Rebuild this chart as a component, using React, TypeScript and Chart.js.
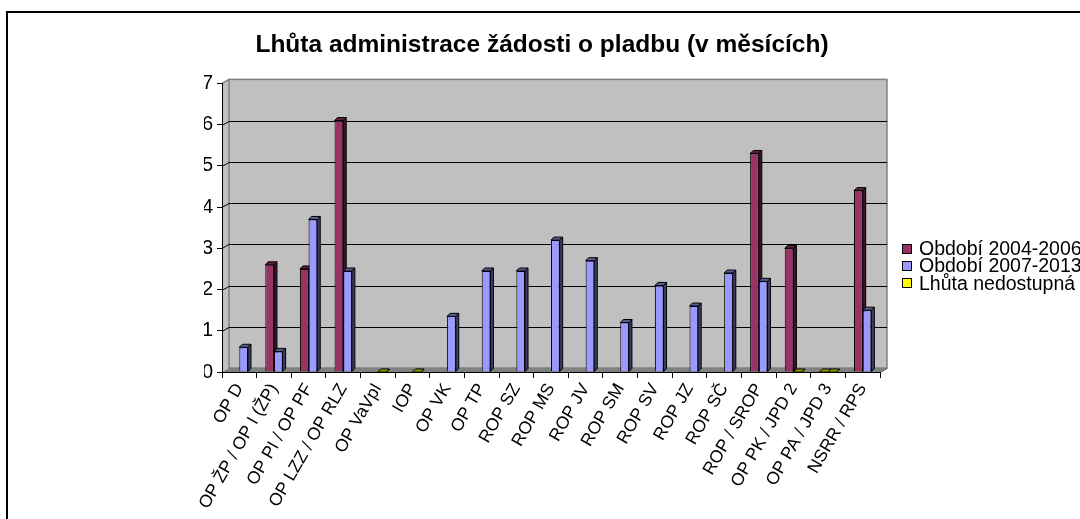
import React, { useEffect, useRef } from "react";
import { Chart, registerables } from "chart.js";

Chart.register(...registerables);

const TITLE = "Lhůta administrace žádosti o pladbu (v měsících)";

const categories = [
  "OP D",
  "OP ŽP / OP I (ŽP)",
  "OP PI / OP PF",
  "OP LZZ / OP RLZ",
  "OP VaVpI",
  "IOP",
  "OP VK",
  "OP TP",
  "ROP SZ",
  "ROP MS",
  "ROP JV",
  "ROP SM",
  "ROP SV",
  "ROP JZ",
  "ROP SČ",
  "ROP / SROP",
  "OP PK / JPD 2",
  "OP PA / JPD 3",
  "NSRR / RPS",
];

// Období 2004-2006 (null = no bar)
const period2004 = [null, 2.6, 2.5, 6.1, null, null, null, null, null, null, null, null, null, null, null, 5.3, 3.0, 0, 4.4];
// Období 2007-2013
const period2007 = [0.6, 0.5, 3.7, 2.45, 0, 0, 1.35, 2.45, 2.45, 3.2, 2.7, 1.2, 2.1, 1.6, 2.4, 2.2, 0, 0, 1.5];

// "Lhůta nedostupná" flags (shown as yellow marks)
const unavailable2004 = [false, false, false, false, false, false, false, false, false, false, false, false, false, false, false, false, false, true, false];
const unavailable2007 = [false, false, false, false, true, true, false, false, false, false, false, false, false, false, false, false, true, true, false];

const seriesNames = ["Období 2004-2006", "Období 2007-2013", "Lhůta nedostupná"];
const seriesColors = ["#993366", "#9999FF", "#FFFF00"];

const yMin = 0;
const yMax = 7;
const yStep = 1;

const FONT = "'Liberation Sans', Arial, Helvetica, sans-serif";

function shade(hex: string, f: number) {
  const n = parseInt(hex.slice(1), 16);
  const r = Math.round(((n >> 16) & 255) * f);
  const g = Math.round(((n >> 8) & 255) * f);
  const b = Math.round((n & 255) * f);
  return `rgb(${r},${g},${b})`;
}

const WALL_DX = 7;
const WALL_DY = -4;
const BAR_DX = 3;
const BAR_DY = -3;

const wallPlugin = {
  id: "excelWalls",
  beforeDraw(chart: any) {
    const { ctx, chartArea } = chart;
    const { left, right, top, bottom } = chartArea;
    const ys = chart.scales.y;
    ctx.save();
    // back wall
    ctx.fillStyle = "#C0C0C0";
    ctx.fillRect(left + WALL_DX, top + WALL_DY, right - left, bottom - top);
    // side wall
    ctx.beginPath();
    ctx.moveTo(left, top);
    ctx.lineTo(left + WALL_DX, top + WALL_DY);
    ctx.lineTo(left + WALL_DX, bottom + WALL_DY);
    ctx.lineTo(left, bottom);
    ctx.closePath();
    ctx.fill();
    // floor
    ctx.fillStyle = "#808080";
    ctx.beginPath();
    ctx.moveTo(left, bottom);
    ctx.lineTo(right, bottom);
    ctx.lineTo(right + WALL_DX, bottom + WALL_DY);
    ctx.lineTo(left + WALL_DX, bottom + WALL_DY);
    ctx.closePath();
    ctx.fill();
    // wall edges
    ctx.strokeStyle = "#808080";
    ctx.lineWidth = 1.5;
    ctx.strokeRect(left + WALL_DX, top + WALL_DY, right - left, bottom - top);
    ctx.beginPath();
    ctx.moveTo(left, top);
    ctx.lineTo(left + WALL_DX, top + WALL_DY);
    ctx.stroke();
    // gridlines
    ctx.strokeStyle = "#000";
    ctx.lineWidth = 1;
    for (let v = yMin + yStep; v < yMax; v += yStep) {
      const y = Math.round(ys.getPixelForValue(v)) + 0.5;
      ctx.beginPath();
      ctx.moveTo(left, y);
      ctx.lineTo(left + WALL_DX, y + WALL_DY);
      ctx.lineTo(right + WALL_DX, y + WALL_DY);
      ctx.stroke();
    }
    // floor right edge
    ctx.beginPath();
    ctx.moveTo(right, bottom + 0.5);
    ctx.lineTo(right + WALL_DX, bottom + WALL_DY + 0.5);
    ctx.strokeStyle = "#404040";
    ctx.stroke();
    ctx.restore();
  },
  beforeDatasetsDraw(chart: any) {
    const { ctx } = chart;
    ctx.save();
    ctx.strokeStyle = "#000";
    ctx.lineWidth = 1;
    ctx.lineJoin = "miter";
    chart.data.datasets.forEach((ds: any, di: number) => {
      const meta = chart.getDatasetMeta(di);
      const flags = di === 0 ? unavailable2004 : unavailable2007;
      meta.data.forEach((el: any, i: number) => {
        if (ds.data[i] == null) return;
        const p = el.getProps(["x", "y", "base", "width"], true);
        const color = flags[i] ? seriesColors[2] : seriesColors[di];
        const l = p.x - p.width / 2;
        const r = p.x + p.width / 2;
        const t = Math.min(p.y, p.base);
        const b = p.base;
        // side face
        ctx.fillStyle = shade(color, 0.4);
        ctx.beginPath();
        ctx.moveTo(r, t);
        ctx.lineTo(r + BAR_DX, t + BAR_DY);
        ctx.lineTo(r + BAR_DX, b + BAR_DY);
        ctx.lineTo(r, b);
        ctx.closePath();
        ctx.fill();
        ctx.stroke();
        // top face
        ctx.fillStyle = shade(color, 0.6);
        ctx.beginPath();
        ctx.moveTo(l, t);
        ctx.lineTo(l + BAR_DX, t + BAR_DY);
        ctx.lineTo(r + BAR_DX, t + BAR_DY);
        ctx.lineTo(r, t);
        ctx.closePath();
        ctx.fill();
        ctx.stroke();
      });
    });
    ctx.restore();
  },
};

export default function App() {
  const canvasRef = useRef<HTMLCanvasElement | null>(null);

  useEffect(() => {
    const canvas = canvasRef.current;
    if (!canvas) return;
    const chart = new Chart(canvas, {
      type: "bar",
      data: {
        labels: categories,
        datasets: [
          {
            label: seriesNames[0],
            data: period2004 as any,
            backgroundColor: (c: any) => (unavailable2004[c.dataIndex] ? seriesColors[2] : seriesColors[0]),
            borderColor: "#000",
            borderWidth: 1,
            categoryPercentage: 0.5,
            barPercentage: 1.0,
          },
          {
            label: seriesNames[1],
            data: period2007 as any,
            backgroundColor: (c: any) => (unavailable2007[c.dataIndex] ? seriesColors[2] : seriesColors[1]),
            borderColor: "#000",
            borderWidth: 1,
            categoryPercentage: 0.5,
            barPercentage: 1.0,
          },
        ],
      },
      options: {
        responsive: false,
        animation: false,
        devicePixelRatio: 1,
        events: [],
        layout: { padding: { left: 196, right: 238, top: 10, bottom: 0 } },
        plugins: {
          legend: { display: false },
          tooltip: { enabled: false },
          title: {
            display: true,
            text: TITLE,
            color: "#000",
            font: { family: FONT, size: 24.5, weight: "bold" },
            padding: { top: 8, bottom: 23 },
          },
        },
        scales: {
          x: {
            afterFit: (s: any) => {
              s.height = 181;
            },
            grid: { display: true, drawOnChartArea: false, drawTicks: true, tickLength: 6, color: "#000", offset: true },
            border: { display: true, color: "#000", width: 1 },
            ticks: {
              autoSkip: false,
              minRotation: 60,
              maxRotation: 60,
              color: "#000",
              padding: 2,
              font: { family: FONT, size: 17.5 },
            },
          },
          y: {
            min: yMin,
            max: yMax,
            afterFit: (s: any) => {
              s.width = 18;
            },
            grid: { display: true, drawOnChartArea: false, drawTicks: true, tickLength: 5, color: "#000" },
            border: { display: true, color: "#000", width: 1 },
            ticks: {
              stepSize: yStep,
              color: "#000",
              padding: 4,
              font: { family: FONT, size: 20 },
            },
          },
        },
      },
      plugins: [wallPlugin],
    } as any);
    return () => chart.destroy();
  }, []);

  return (
    <div style={{ position: "fixed", left: 0, top: 0, width: 1080, height: 519, overflow: "hidden", background: "#fff" }}>
      <div
        style={{
          position: "absolute",
          left: 6,
          top: 11,
          width: 1120,
          height: 560,
          border: "2px solid #000",
          background: "#fff",
        }}
      >
        <canvas ref={canvasRef} width={1110} height={540} style={{ position: "absolute", left: 0, top: 0, width: 1110, height: 540 }} />
      </div>
      <div style={{ position: "absolute", left: 902, top: 240, fontFamily: FONT, fontSize: 19.5, color: "#000" }}>
        {seriesNames.map((name, i) => (
          <div key={name} style={{ display: "flex", alignItems: "center", height: 17.4, whiteSpace: "nowrap" }}>
            <span
              style={{
                display: "inline-block",
                width: 8,
                height: 8,
                border: "1px solid #000",
                background: seriesColors[i],
                marginRight: 7,
                flex: "none",
              }}
            />
            <span style={{ lineHeight: "17.4px" }}>{name}</span>
          </div>
        ))}
      </div>
    </div>
  );
}
